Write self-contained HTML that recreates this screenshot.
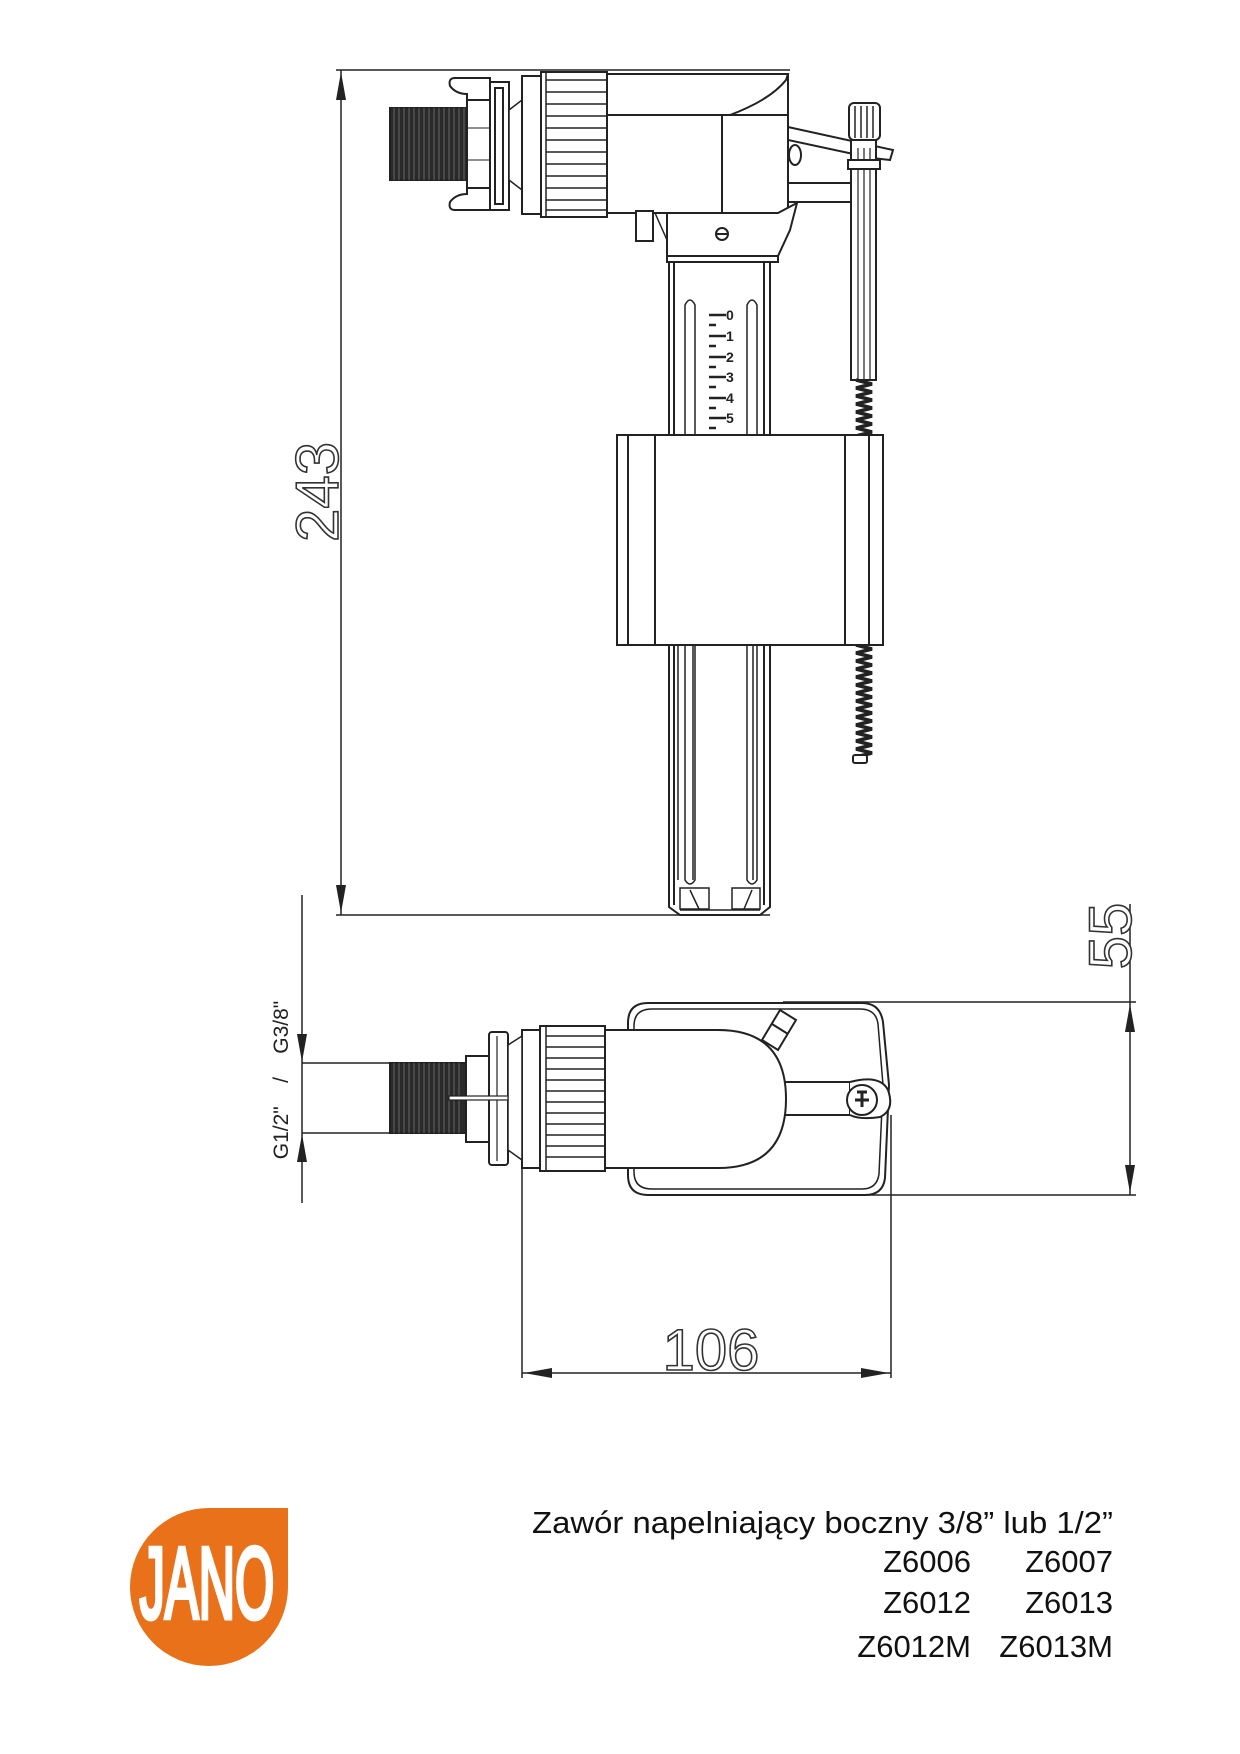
<!DOCTYPE html>
<html><head><meta charset="utf-8"><style>
html,body{margin:0;padding:0;background:#fff;}
svg{display:block;}
</style></head><body>
<svg width="1240" height="1754" viewBox="0 0 1240 1754" xmlns="http://www.w3.org/2000/svg" font-family="Liberation Sans, sans-serif">
<rect width="1240" height="1754" fill="#fff"/>
<g stroke="#222" stroke-width="2" fill="none">
<line x1="336" y1="70" x2="790" y2="70" stroke-width="1.5"/>
<line x1="336" y1="915" x2="770" y2="915" stroke-width="1.5"/>
<line x1="341" y1="70" x2="341" y2="915" stroke-width="1.5"/>
</g>
<polygon points="341,72 336,100 346,100" fill="#222"/>
<polygon points="341,913 336,885 346,885" fill="#222"/>
<text x="0" y="0" transform="translate(338,492) rotate(-90)" font-size="60" text-anchor="middle" fill="#fff" stroke="#333" stroke-width="1.6">243</text>

<!-- TOP VIEW -->
<g stroke="#222" stroke-width="2" fill="#fff">
<rect x="390" y="108" width="77" height="72" fill="#2a2a2a"/>
<g stroke="#666" stroke-width="1">
<line x1="394" y1="108" x2="394" y2="180"/><line x1="399" y1="108" x2="399" y2="180"/><line x1="404" y1="108" x2="404" y2="180"/><line x1="409" y1="108" x2="409" y2="180"/><line x1="414" y1="108" x2="414" y2="180"/><line x1="419" y1="108" x2="419" y2="180"/><line x1="424" y1="108" x2="424" y2="180"/><line x1="429" y1="108" x2="429" y2="180"/><line x1="434" y1="108" x2="434" y2="180"/><line x1="439" y1="108" x2="439" y2="180"/><line x1="444" y1="108" x2="444" y2="180"/><line x1="449" y1="108" x2="449" y2="180"/><line x1="454" y1="108" x2="454" y2="180"/><line x1="459" y1="108" x2="459" y2="180"/><line x1="464" y1="108" x2="464" y2="180"/>
</g>
<path d="M455,78 H490 V210 H455 Q448,210 450,202 Q456,194 467,194 V94 Q456,94 450,86 Q448,78 455,78 Z"/>
<rect x="467" y="100" width="23" height="88"/>
<rect x="490" y="82" width="19" height="128"/>
<rect x="495" y="88" width="8" height="116"/>
<line x1="467" y1="128" x2="490" y2="128" stroke-width="1"/>
<line x1="467" y1="160" x2="490" y2="160" stroke-width="1"/>
<path d="M509,110 L522,100 V190 L509,180 Z" stroke-width="1.5"/>
<rect x="522" y="76" width="19" height="138"/>
<path d="M607,74 H788 L786,80 Q770,100 730,115 H607 Z"/>
<rect x="607" y="115" width="181" height="98"/>
<line x1="722" y1="115" x2="722" y2="213"/>
<path d="M788,74 V205" />
<rect x="541" y="72" width="66" height="145"/>
<g stroke-width="1.5">
<line x1="546" y1="80" x2="607" y2="80"/><line x1="546" y1="92" x2="607" y2="92"/><line x1="546" y1="104" x2="607" y2="104"/><line x1="546" y1="116" x2="607" y2="116"/><line x1="546" y1="128" x2="607" y2="128"/><line x1="546" y1="140" x2="607" y2="140"/><line x1="546" y1="152" x2="607" y2="152"/><line x1="546" y1="164" x2="607" y2="164"/><line x1="546" y1="176" x2="607" y2="176"/><line x1="546" y1="188" x2="607" y2="188"/><line x1="546" y1="200" x2="607" y2="200"/><line x1="546" y1="210" x2="607" y2="210"/>
<line x1="546" y1="72" x2="546" y2="217"/>
</g>
<rect x="636" y="211" width="17" height="30"/>
<path d="M667,213 H778 L797,203 L790,230 L778,256 V262 H667 Z"/>
<line x1="667" y1="256" x2="778" y2="256"/>
<line x1="655" y1="213" x2="667" y2="240" stroke-width="1.5"/>
<circle cx="722" cy="234" r="6"/>
<line x1="716" y1="234" x2="728" y2="234"/>
<path d="M788,127 L893,150 L890,160 L872,158 L788,140 Z"/>
<ellipse cx="795" cy="155" rx="6" ry="10"/>
<rect x="788" y="183" width="63" height="19"/>
<rect x="851" y="140" width="25" height="240"/>
<line x1="858" y1="148" x2="858" y2="380" stroke-width="1.2"/>
<line x1="864" y1="148" x2="864" y2="380" stroke-width="1.2"/>
<line x1="870" y1="148" x2="870" y2="380" stroke-width="1.2"/>
<rect x="848" y="160" width="32" height="9"/>
<rect x="849" y="103" width="31" height="37" rx="5"/>
<g stroke-width="1.5"><line x1="855" y1="106" x2="855" y2="138"/><line x1="861" y1="106" x2="861" y2="138"/><line x1="867" y1="106" x2="867" y2="138"/><line x1="873" y1="106" x2="873" y2="138"/></g>
<path d="M856,380 L872,384 L856,388 L872,392 L856,396 L872,400 L856,404 L872,408 L856,412 L872,416 L856,420 L872,424 L856,428 L872,432 L856,436 M856,645 L872,649 L856,653 L872,657 L856,661 L872,665 L856,669 L872,673 L856,677 L872,681 L856,685 L872,689 L856,693 L872,697 L856,701 L872,705 L856,709 L872,713 L856,717 L872,721 L856,725 L872,729 L856,733 L872,737 L856,741 L872,745 L856,749 L872,753 L856,757" stroke-width="3.5" fill="none"/>
<rect x="853" y="755" width="14" height="8" rx="2"/>
<path d="M669,262 H770 V907 L760,915 H680 L669,907 Z"/>
<line x1="674" y1="262" x2="674" y2="905"/>
<line x1="764" y1="262" x2="764" y2="905"/>
<line x1="680" y1="910" x2="760" y2="910" stroke-width="1.5"/>
<path d="M685,880 V305 Q690,295 695,305 V880 Q690,888 685,880 Z" stroke-width="1.5"/>
<path d="M747,880 V305 Q752,295 757,305 V880 Q752,888 747,880 Z" stroke-width="1.5"/>
<rect x="680" y="888" width="29" height="21" stroke-width="1.5"/>
<line x1="690" y1="890" x2="699" y2="909" stroke-width="1.5"/>
<rect x="732" y="888" width="28" height="21" stroke-width="1.5"/>
<line x1="752" y1="890" x2="744" y2="909" stroke-width="1.5"/>
</g>
<g stroke="#222" stroke-width="2.5">
<line x1="709" y1="315" x2="726" y2="315"/><line x1="709" y1="325" x2="716" y2="325"/>
<line x1="709" y1="336" x2="726" y2="336"/><line x1="709" y1="346" x2="716" y2="346"/>
<line x1="709" y1="357" x2="726" y2="357"/><line x1="709" y1="367" x2="716" y2="367"/>
<line x1="709" y1="377" x2="726" y2="377"/><line x1="709" y1="387" x2="716" y2="387"/>
<line x1="709" y1="398" x2="726" y2="398"/><line x1="709" y1="408" x2="716" y2="408"/>
<line x1="709" y1="418" x2="726" y2="418"/><line x1="709" y1="428" x2="716" y2="428"/>
</g>
<g font-size="14" font-weight="bold" fill="#222">
<text x="726" y="320">0</text><text x="726" y="341">1</text><text x="726" y="362">2</text><text x="726" y="382">3</text><text x="726" y="403">4</text><text x="726" y="423">5</text>
</g>
<g stroke="#222" stroke-width="2" fill="#fff">
<rect x="617" y="435" width="266" height="210"/>
<line x1="628" y1="435" x2="628" y2="645"/>
<line x1="655" y1="435" x2="655" y2="645"/>
<line x1="845" y1="435" x2="845" y2="645"/>
<line x1="869" y1="435" x2="869" y2="645"/>
</g>
<g stroke="#222" stroke-width="1.5">
<line x1="678" y1="645" x2="678" y2="880"/><line x1="693" y1="645" x2="693" y2="880"/>
<line x1="753" y1="645" x2="753" y2="880"/>
</g>

<!-- BOTTOM VIEW -->
<g stroke="#222" stroke-width="1.5" fill="none">
<line x1="302" y1="895" x2="302" y2="1203"/>
<line x1="302" y1="1063" x2="392" y2="1063"/>
<line x1="302" y1="1133" x2="392" y2="1133"/>
<line x1="522" y1="1030" x2="522" y2="1378"/>
<line x1="891" y1="1115" x2="891" y2="1378"/>
<line x1="522" y1="1373" x2="891" y2="1373"/>
<line x1="783" y1="1002" x2="1136" y2="1002"/>
<line x1="800" y1="1195" x2="1136" y2="1195"/>
<line x1="1130" y1="904" x2="1130" y2="1195"/>
</g>
<polygon points="302,1062 297,1034 307,1034" fill="#222"/>
<polygon points="302,1134 297,1162 307,1162" fill="#222"/>
<polygon points="1130,1004 1125,1032 1135,1032" fill="#222"/>
<polygon points="1130,1193 1125,1165 1135,1165" fill="#222"/>
<polygon points="524,1373 552,1368 552,1378" fill="#222"/>
<polygon points="889,1373 861,1368 861,1378" fill="#222"/>
<text transform="translate(1131,936) rotate(-90)" font-size="60" text-anchor="middle" fill="#fff" stroke="#333" stroke-width="1.6">55</text>
<text x="711" y="1370" font-size="58" text-anchor="middle" fill="#fff" stroke="#333" stroke-width="1.6">106</text>
<text transform="translate(288,1080) rotate(-90)" font-size="21" text-anchor="middle" fill="#222" xml:space="preserve">G1/2"    /    G3/8"</text>

<g stroke="#222" stroke-width="2" fill="#fff">
<path d="M648,1003 H862 Q880,1003 883,1022 L889,1085 L885,1178 Q883,1195 865,1195 H648 Q628,1195 628,1175 V1023 Q628,1003 648,1003 Z"/>
<path d="M652,1009 H860 Q876,1009 878,1024 L883,1085 L879,1174 Q877,1189 862,1189 H652 Q634,1189 634,1172 V1026 Q634,1009 652,1009 Z" stroke-width="1.5"/>
<rect x="770" y="1082" width="80" height="33"/>
<path d="M850,1082 Q880,1074 888,1090 Q895,1110 880,1117 Q860,1120 850,1115"/>
<circle cx="862" cy="1100" r="15"/>
<path d="M857,1092 h10 M862,1093 v14 M855,1100 h14" stroke-width="3"/>
<path d="M762,1040 L780,1010 L796,1020 L778,1050 Z"/>
<line x1="772" y1="1024" x2="788" y2="1034"/>
<path d="M605,1030 H718 Q786,1030 786,1099 Q786,1168 718,1168 H605 Z"/>
<rect x="522" y="1030" width="18" height="138" fill="none"/>
<rect x="540" y="1026" width="65" height="145"/>
</g>
<g stroke="#222" stroke-width="1.5">
<line x1="546" y1="1026" x2="546" y2="1171"/>
<line x1="546" y1="1036" x2="605" y2="1036"/><line x1="546" y1="1047" x2="605" y2="1047"/><line x1="546" y1="1058" x2="605" y2="1058"/><line x1="546" y1="1069" x2="605" y2="1069"/><line x1="546" y1="1080" x2="605" y2="1080"/><line x1="546" y1="1091" x2="605" y2="1091"/><line x1="546" y1="1102" x2="605" y2="1102"/><line x1="546" y1="1113" x2="605" y2="1113"/><line x1="546" y1="1124" x2="605" y2="1124"/><line x1="546" y1="1135" x2="605" y2="1135"/><line x1="546" y1="1146" x2="605" y2="1146"/><line x1="546" y1="1157" x2="605" y2="1157"/>
</g>
<g stroke="#222" stroke-width="2" fill="#fff">
<rect x="489" y="1032" width="19" height="133" rx="3"/>
<line x1="497" y1="1036" x2="497" y2="1161" stroke-width="1.2"/>
<path d="M508,1045 L522,1036 V1160 L508,1150 Z" stroke-width="1.5"/>
<rect x="466" y="1056" width="23" height="86"/>
<rect x="390" y="1063" width="76" height="70" fill="#2a2a2a"/>
</g>
<g stroke="#666" stroke-width="1">
<line x1="394" y1="1063" x2="394" y2="1133"/><line x1="399" y1="1063" x2="399" y2="1133"/><line x1="404" y1="1063" x2="404" y2="1133"/><line x1="409" y1="1063" x2="409" y2="1133"/><line x1="414" y1="1063" x2="414" y2="1133"/><line x1="419" y1="1063" x2="419" y2="1133"/><line x1="424" y1="1063" x2="424" y2="1133"/><line x1="429" y1="1063" x2="429" y2="1133"/><line x1="434" y1="1063" x2="434" y2="1133"/><line x1="439" y1="1063" x2="439" y2="1133"/><line x1="444" y1="1063" x2="444" y2="1133"/><line x1="449" y1="1063" x2="449" y2="1133"/><line x1="454" y1="1063" x2="454" y2="1133"/><line x1="459" y1="1063" x2="459" y2="1133"/>
</g>
<rect x="449" y="1096" width="59" height="4" fill="#fff" stroke="#222" stroke-width="1.2"/>

<!-- LOGO -->
<path d="M288,1508 V1587 A79,79 0 1 1 209,1508 Z" fill="#E8711A"/>
<text transform="translate(207,1618) scale(0.5,1)" font-size="101" text-anchor="middle" fill="#fff" stroke="#fff" stroke-width="5">JANO</text>

<g font-size="31" fill="#111" text-anchor="end">
<text x="1113" y="1533" textLength="581" lengthAdjust="spacingAndGlyphs">Zawór napelniający boczny 3/8” lub 1/2”</text>
<text x="971" y="1572">Z6006</text><text x="1113" y="1572">Z6007</text>
<text x="971" y="1613">Z6012</text><text x="1113" y="1613">Z6013</text>
<text x="971" y="1657">Z6012M</text><text x="1113" y="1657">Z6013M</text>
</g>
</svg>
</body></html>
